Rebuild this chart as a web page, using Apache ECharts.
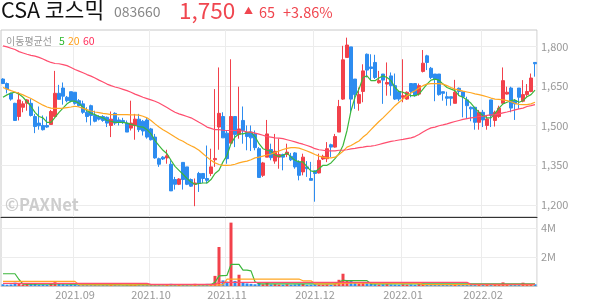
<!DOCTYPE html>
<html><head><meta charset="utf-8">
<script src="https://cdn.jsdelivr.net/npm/echarts@6/dist/echarts.min.js"></script>
<style>html,body{margin:0;padding:0;background:#fff}#c{width:594px;height:304px}</style>
</head><body><div id="c"></div>
<script>
// trading days per month
const monthDays = [
  ['2021.08', [5,6,9,10,11,12,13,17,18,19,20,23,24,25,26,27,30,31]],
  ['2021.09', [1,2,3,6,7,8,9,10,13,14,15,16,17,23,24,27,28,29,30]],
  ['2021.10', [1,5,6,7,8,12,13,14,15,18,19,20,21,22,25,26,27,28,29]],
  ['2021.11', [1,2,3,4,5,8,9,10,11,12,15,16,17,18,19,22,23,24,25,26,29,30]],
  ['2021.12', [1,2,3,6,7,8,9,10,13,14,15,16,17,20,21,22,23,24,27,28,29,30]],
  ['2022.01', [3,4,5,6,7,10,11,12,13,14,17,18,19,20,21,24,25,26,27,28]],
  ['2022.02', [3,4,7,8,9,10,11,14,15,16,17,18,21,22]]
];
const dates = [];
monthDays.forEach(([m, ds]) => ds.forEach(d => dates.push(m + '.' + String(d).padStart(2,'0'))));

const opens = [1677,1660,1623,1585,1535,1570,1585,1585,1535,1510,1501,1501,1505,1535,1623,1643,1608,1629,1627,1595,1583,1551,1576,1539,1535,1535,1532,1501,1547,1522,1520,1510,1491,1501,1525,1517,1522,1488,1457,1375,1381,1378,1354,1296,1278,1361,1344,1296,1278,1319,1319,1300,1319,1371,1495,1535,1472,1434,1535,1467,1520,1474,1476,1469,1413,1312,1381,1410,1366,1381,1391,1391,1384,1397,1363,1325,1344,1300,1329,1321,1374,1375,1428,1419,1476,1601,1759,1799,1677,1585,1630,1771,1723,1740,1663,1696,1658,1689,1652,1630,1608,1601,1660,1660,1620,1706,1765,1718,1696,1696,1629,1610,1610,1585,1642,1629,1598,1570,1570,1513,1551,1501,1598,1520,1535,1585,1620,1643,1595,1643,1593,1618,1630,1740];
const closes = [1660,1639,1601,1520,1598,1583,1598,1539,1497,1500,1485,1495,1554,1623,1600,1612,1595,1593,1585,1576,1551,1535,1539,1517,1525,1520,1510,1525,1510,1513,1512,1476,1510,1525,1485,1480,1457,1447,1378,1354,1374,1386,1253,1278,1298,1296,1278,1271,1283,1281,1300,1293,1344,1376,1547,1454,1375,1535,1467,1488,1482,1459,1454,1417,1304,1359,1469,1379,1403,1391,1381,1400,1371,1344,1312,1381,1337,1293,1319,1369,1384,1413,1419,1459,1573,1750,1806,1601,1618,1618,1708,1711,1717,1683,1671,1673,1664,1652,1601,1601,1614,1627,1630,1614,1652,1737,1740,1683,1677,1618,1623,1604,1604,1627,1630,1610,1576,1564,1513,1551,1522,1526,1539,1551,1567,1671,1627,1567,1583,1608,1618,1630,1681,1735];
const lows = [1658,1623,1595,1518,1520,1551,1557,1535,1472,1485,1482,1492,1505,1532,1600,1580,1589,1589,1580,1573,1545,1513,1501,1513,1520,1515,1495,1457,1503,1501,1507,1476,1482,1447,1476,1463,1451,1444,1375,1344,1370,1356,1253,1258,1275,1258,1275,1268,1195,1249,1283,1281,1309,1344,1409,1454,1356,1434,1419,1451,1432,1407,1404,1407,1304,1306,1381,1369,1356,1337,1331,1381,1366,1337,1293,1312,1306,1293,1212,1319,1370,1362,1381,1417,1476,1598,1759,1551,1564,1557,1589,1683,1673,1677,1660,1583,1614,1614,1598,1593,1589,1598,1608,1610,1614,1702,1711,1677,1593,1614,1595,1576,1576,1585,1614,1532,1526,1517,1485,1485,1495,1485,1495,1497,1530,1585,1618,1551,1522,1564,1589,1610,1627,1686];
const highs = [1680,1664,1625,1587,1627,1593,1601,1601,1545,1573,1539,1535,1560,1708,1655,1664,1613,1629,1627,1601,1595,1570,1580,1557,1540,1540,1535,1554,1551,1532,1530,1520,1595,1545,1545,1522,1530,1492,1469,1379,1385,1409,1369,1306,1301,1361,1344,1300,1300,1325,1319,1425,1413,1639,1721,1551,1482,1752,1535,1648,1573,1501,1501,1482,1419,1363,1522,1432,1469,1451,1394,1432,1397,1400,1369,1394,1366,1363,1331,1394,1390,1438,1432,1469,1598,1803,1834,1799,1677,1645,1733,1774,1771,1769,1708,1696,1740,1702,1698,1630,1752,1630,1660,1660,1660,1787,1769,1723,1696,1696,1629,1629,1610,1674,1645,1629,1610,1573,1570,1560,1560,1539,1598,1557,1576,1721,1648,1648,1601,1643,1673,1658,1698,1740];

const ma5 = [1608,1617,1624,1627,1620,1608,1591,1573,1551,1535,1530,1513,1513,1532,1551,1567,1583,1593,1593,1585,1570,1557,1547,1542,1535,1530,1520,1517,1513,1513,1513,1510,1505,1501,1497,1495,1485,1469,1444,1425,1407,1394,1369,1346,1331,1316,1300,1287,1278,1281,1283,1283,1296,1319,1331,1363,1388,1432,1457,1469,1469,1474,1476,1459,1432,1413,1407,1404,1388,1384,1388,1397,1381,1369,1363,1363,1344,1329,1325,1337,1350,1350,1359,1375,1394,1425,1482,1557,1608,1639,1683,1689,1671,1671,1681,1689,1683,1671,1645,1630,1627,1620,1614,1614,1620,1639,1658,1673,1677,1673,1658,1645,1639,1633,1614,1608,1598,1585,1567,1551,1539,1530,1530,1547,1567,1583,1589,1595,1598,1589,1595,1610,1618,1635];
const ma20 = [1645,1639,1633,1628,1623,1617,1610,1603,1595,1586,1578,1571,1567,1566,1566,1567,1569,1571,1574,1571,1566,1561,1556,1552,1550,1547,1545,1542,1542,1542,1542,1542,1541,1541,1540,1536,1530,1520,1507,1495,1485,1476,1467,1457,1448,1441,1432,1424,1417,1407,1394,1381,1369,1359,1353,1350,1350,1351,1354,1359,1363,1366,1371,1378,1381,1385,1389,1393,1398,1404,1410,1414,1417,1417,1415,1410,1404,1398,1391,1385,1381,1378,1378,1381,1391,1403,1419,1425,1434,1442,1457,1469,1485,1501,1516,1530,1545,1560,1576,1589,1601,1614,1624,1633,1643,1652,1658,1660,1660,1660,1658,1652,1645,1639,1635,1631,1628,1625,1621,1618,1614,1610,1605,1601,1600,1598,1595,1591,1585,1581,1580,1580,1583,1589];
const ma60 = [1803,1799,1794,1789,1781,1776,1771,1767,1764,1759,1753,1746,1740,1736,1735,1732,1728,1721,1713,1707,1701,1694,1688,1681,1673,1666,1658,1652,1647,1643,1638,1633,1627,1620,1614,1608,1603,1598,1593,1586,1578,1569,1560,1551,1545,1540,1535,1530,1522,1513,1505,1495,1490,1485,1485,1483,1482,1482,1482,1481,1480,1477,1476,1472,1468,1464,1459,1457,1454,1453,1451,1447,1443,1439,1434,1430,1425,1420,1413,1409,1407,1405,1405,1405,1407,1407,1409,1412,1414,1417,1419,1422,1423,1425,1429,1433,1437,1441,1443,1446,1448,1451,1454,1459,1467,1476,1485,1492,1495,1500,1503,1507,1512,1516,1520,1524,1527,1530,1532,1535,1536,1539,1541,1542,1545,1549,1552,1556,1560,1564,1567,1573,1576,1580];

const volumes = [120000,90000,110000,230000,200000,110000,190000,130000,150000,90000,100000,80000,160000,260000,140000,130000,90000,110000,100000,80000,120000,100000,120000,80000,60000,70000,90000,110000,80000,60000,50000,90000,100000,90000,70000,80000,100000,90000,140000,80000,60000,90000,150000,90000,70000,100000,80000,60000,150000,90000,70000,150000,120000,700000,2700000,390000,300000,4390000,350000,780000,250000,180000,150000,120000,200000,120000,250000,110000,130000,100000,90000,120000,90000,110000,130000,140000,80000,90000,120000,100000,90000,110000,80000,120000,430000,850000,350000,380000,250000,180000,250000,200000,150000,120000,100000,110000,120000,100000,90000,80000,110000,90000,100000,80000,120000,150000,110000,90000,100000,110000,80000,90000,70000,100000,80000,90000,80000,70000,100000,90000,80000,90000,100000,80000,90000,250000,110000,100000,80000,90000,230000,100000,110000,120000];
const volMa5 = [850000,850000,850000,850000,450000,130000,130000,130000,130000,130000,130000,130000,130000,150000,150000,150000,130000,130000,130000,120000,110000,110000,110000,100000,100000,100000,90000,90000,90000,90000,80000,80000,80000,80000,90000,90000,90000,90000,100000,100000,100000,90000,100000,100000,100000,100000,100000,90000,100000,100000,100000,100000,110000,250000,700000,720000,740000,1500000,1500000,1500000,1100000,1100000,1050000,300000,150000,150000,150000,150000,150000,150000,150000,150000,150000,150000,150000,150000,150000,150000,150000,150000,150000,150000,150000,150000,250000,400000,370000,370000,370000,370000,370000,370000,150000,150000,150000,150000,150000,150000,150000,150000,150000,150000,150000,150000,150000,150000,150000,150000,150000,150000,150000,150000,150000,150000,150000,150000,150000,150000,150000,150000,150000,150000,150000,150000,150000,150000,150000,150000,150000,150000,150000,150000,150000,150000];
const volMa20 = [320000,320000,320000,320000,320000,320000,320000,320000,320000,320000,320000,320000,320000,320000,320000,320000,320000,320000,320000,80000,80000,80000,80000,80000,80000,80000,80000,80000,80000,80000,80000,80000,80000,80000,80000,80000,80000,80000,80000,80000,80000,80000,80000,80000,80000,80000,80000,80000,80000,80000,80000,80000,80000,80000,80000,80000,480000,480000,480000,480000,480000,480000,480000,480000,480000,480000,480000,480000,480000,480000,480000,480000,480000,480000,480000,360000,360000,360000,150000,150000,150000,150000,150000,150000,150000,200000,200000,200000,200000,200000,200000,200000,200000,200000,200000,200000,200000,200000,200000,200000,200000,200000,200000,200000,200000,100000,100000,100000,100000,100000,100000,100000,100000,100000,100000,100000,100000,100000,100000,100000,100000,100000,100000,100000,100000,100000,100000,100000,100000,100000,100000,100000,100000,100000];
const volMa60 = [180000,180000,180000,180000,180000,180000,180000,180000,180000,180000,180000,180000,180000,180000,180000,180000,180000,180000,180000,180000,180000,180000,180000,180000,180000,180000,180000,180000,180000,180000,180000,180000,180000,180000,180000,180000,180000,110000,110000,110000,110000,110000,110000,110000,110000,110000,110000,110000,110000,110000,110000,110000,110000,110000,250000,250000,250000,250000,250000,250000,250000,250000,250000,250000,250000,250000,250000,250000,250000,250000,250000,250000,250000,250000,250000,250000,250000,250000,250000,250000,250000,250000,250000,250000,250000,250000,250000,250000,250000,250000,250000,250000,250000,250000,250000,250000,250000,250000,250000,250000,250000,250000,250000,250000,250000,250000,250000,250000,250000,250000,250000,250000,250000,250000,250000,250000,250000,120000,120000,120000,120000,120000,120000,120000,120000,120000,120000,120000,120000,120000,120000,120000,120000,120000];

const priceTicks = [1200,1350,1500,1650,1800];
const volTicks = [2000000,4000000];

const FONT = '"Noto Sans CJK KR","Noto Sans",sans-serif';
const RED = '#f2414b', BLUE = '#2d8cf0';
const GREEN = '#3cb73c', ORANGE = '#ffa722', PINK = '#ff4d6e';
const GRID = '#ececec', FRAME = '#c8c8c8';
const isMonthStart = (i) => i > 0 && dates[i].slice(0,7) !== dates[i-1].slice(0,7);

const candles = dates.map((d,i) => [opens[i], closes[i], lows[i], highs[i]]);
const volData = volumes.map((v,i) => ({value: v, itemStyle: {color: closes[i] >= opens[i] ? RED : BLUE}}));

const chart = echarts.init(document.getElementById('c'), null, {renderer: 'canvas'});
const line = (name, data, color, xi) => ({
  name, type: 'line', data, xAxisIndex: xi, yAxisIndex: xi, showSymbol: false, symbol: 'none',
  lineStyle: {color, width: 1.2}, itemStyle: {color}, silent: true, z: 3
});
chart.setOption({
  animation: false,
  textStyle: {fontFamily: FONT},
  grid: [
    {left: 1, right: 57, top: 30, height: 187, show: true, borderColor: FRAME, borderWidth: 1},
    {left: 1, right: 57, top: 217, height: 69, show: true, borderColor: FRAME, borderWidth: 1}
  ],
  xAxis: [
    {type: 'category', data: dates, gridIndex: 0, boundaryGap: true,
     axisLine: {show: true, lineStyle: {color: '#333', width: 1}}, axisTick: {show: false}, axisLabel: {show: false},
     splitLine: {show: true, interval: (i) => isMonthStart(i), lineStyle: {color: GRID}}},
    {type: 'category', data: dates, gridIndex: 1, boundaryGap: true,
     axisLine: {show: true, lineStyle: {color: FRAME}}, axisTick: {show: false},
     axisLabel: {interval: (i) => isMonthStart(i), formatter: v => v.slice(0,7), color: '#999', fontSize: 11, margin: 3, fontFamily: FONT},
     splitLine: {show: true, interval: (i) => isMonthStart(i), lineStyle: {color: GRID}}}
  ],
  yAxis: [
    {type: 'value', gridIndex: 0, position: 'right', min: 1154, max: 1863, scale: true,
     axisLine: {show: false}, axisTick: {show: false, customValues: priceTicks},
     axisLabel: {customValues: priceTicks, formatter: v => v.toLocaleString('en-US'), color: '#999', fontSize: 11, margin: 4, fontFamily: FONT, padding: [4,0,0,0]},
     splitLine: {show: true, lineStyle: {color: GRID}}},
    {type: 'value', gridIndex: 1, position: 'right', min: 0, max: 4780000,
     axisLine: {show: false}, axisTick: {show: false, customValues: volTicks},
     axisLabel: {customValues: volTicks, formatter: v => (v/1e6) + 'M', color: '#999', fontSize: 11, margin: 4, fontFamily: FONT, padding: [2,0,0,0]},
     splitLine: {show: true, lineStyle: {color: GRID}}}
  ],
  series: [
    {type: 'candlestick', data: candles, xAxisIndex: 0, yAxisIndex: 0, barWidth: 3, z: 2,
     itemStyle: {color: RED, color0: BLUE, borderColor: RED, borderColor0: BLUE, borderWidth: 1}},
    line('MA5', ma5, GREEN, 0),
    line('MA20', ma20, ORANGE, 0),
    line('MA60', ma60, PINK, 0),
    {type: 'bar', data: volData, xAxisIndex: 1, yAxisIndex: 1, barWidth: 3, z: 2},
    line('V5', volMa5, GREEN, 1),
    line('V20', volMa20, ORANGE, 1),
    line('V60', volMa60, PINK, 1)
  ],
  graphic: [
    {type: 'text', x: 1, y: 10, style: {text: 'CSA 코스믹', fontSize: 21.5, fontFamily: FONT, fill: '#111', verticalAlign: 'middle'}},
    {type: 'text', x: 114, y: 12, style: {text: '083660', fontSize: 14, fontFamily: FONT, fill: '#888', verticalAlign: 'middle'}},
    {type: 'text', x: 179, y: 10, style: {text: '1,750', fontSize: 22.5, fontFamily: FONT, fill: '#f0464f', verticalAlign: 'middle'}},
    {type: 'text', x: 244, y: 11, style: {text: '▲', fontSize: 9, fontFamily: FONT, fill: '#f0464f', verticalAlign: 'middle'}},
    {type: 'text', x: 259, y: 12, style: {text: '65', fontSize: 14.5, fontFamily: FONT, fill: '#f0464f', verticalAlign: 'middle'}},
    {type: 'text', x: 283, y: 12, style: {text: '+3.86%', fontSize: 14.5, fontFamily: FONT, fill: '#f0464f', verticalAlign: 'middle'}},
    {type: 'text', x: 6, y: 41, style: {text: '이동평균선', fontSize: 10, fontFamily: FONT, fill: '#999', verticalAlign: 'middle'}},
    {type: 'text', x: 59, y: 41, style: {text: '5', fontSize: 10.5, fontFamily: FONT, fill: '#2cb82c', verticalAlign: 'middle'}},
    {type: 'text', x: 68, y: 41, style: {text: '20', fontSize: 10.5, fontFamily: FONT, fill: '#ff9f1a', verticalAlign: 'middle'}},
    {type: 'text', x: 83, y: 41, style: {text: '60', fontSize: 10.5, fontFamily: FONT, fill: '#ff2d5a', verticalAlign: 'middle'}},
    {type: 'text', x: 5, y: 205, z: 1, style: {text: '©PAXNet', fontSize: 16.5, fontWeight: 'bold', fontFamily: FONT, fill: '#cdcdcd', verticalAlign: 'middle'}}
  ]
});
</script></body></html>
